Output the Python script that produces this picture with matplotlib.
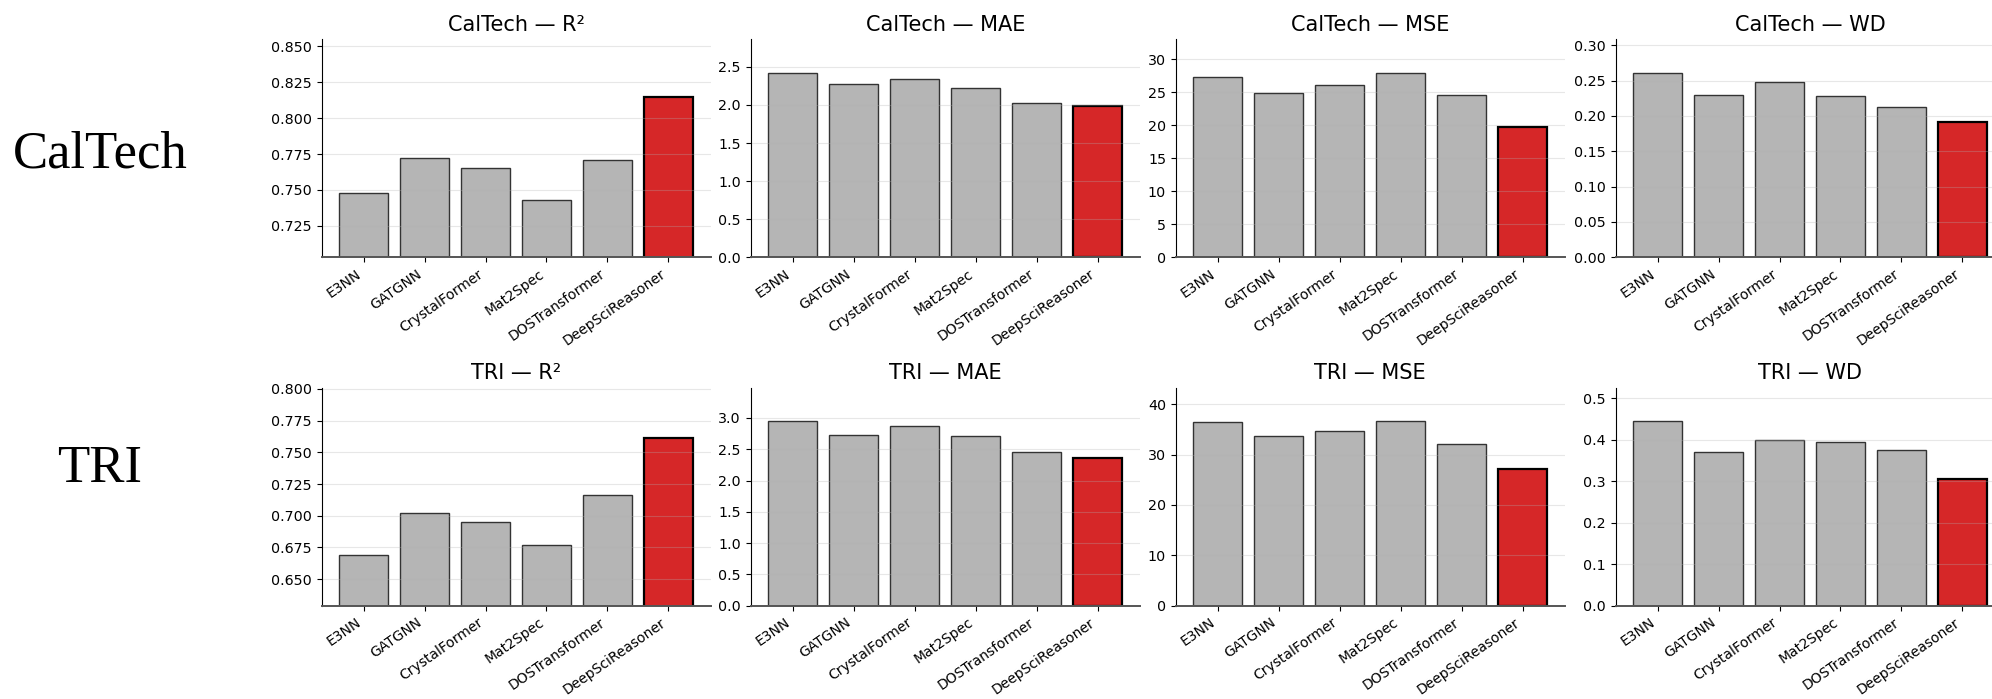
import numpy as np
import matplotlib.pyplot as plt

models = ['E3NN', 'GATGNN', 'CrystalFormer', 'Mat2Spec', 'DOSTransformer', 'DeepSciReasoner']
metrics = ['R²', 'MAE', 'MSE', 'WD']
datasets = ['CalTech', 'TRI']

# values
caltech_r2 = [0.748, 0.772, 0.765, 0.743, 0.771, 0.815]
caltech_mae = [2.426, 2.277, 2.347, 2.229, 2.028, 1.984]
caltech_mse = [27.33, 24.86, 26.15, 27.99, 24.66, 19.67]
caltech_wd = [0.2614, 0.2299, 0.2482, 0.2280, 0.2124, 0.1912]

tri_r2 = [0.669, 0.702, 0.695, 0.677, 0.716, 0.761]
tri_mae = [2.952, 2.729, 2.872, 2.718, 2.463, 2.362]
tri_mse = [36.56, 33.79, 34.64, 36.69, 32.20, 27.24]
tri_wd = [0.4454, 0.370, 0.399, 0.395, 0.3756, 0.305]

values = {
    'CalTech': [caltech_r2, caltech_mae, caltech_mse, caltech_wd],
    'TRI': [tri_r2, tri_mae, tri_mse, tri_wd],
}

W, H = 1992, 699
fig = plt.figure(figsize=(W / 100, H / 100), dpi=100)

# axes placement in pixels (left edge, top edge)
lefts = [321.5, 750.7, 1175.8, 1615.5]
tops = [39.3, 387.7]
ax_w, ax_h = 389, 218
label_y = [168, 482]  # baselines of the row labels

x = np.arange(len(models))
for r, ds in enumerate(datasets):
    fig.text(100 / W, 1 - label_y[r] / H, ds, ha='center', va='baseline',
             fontsize=38, family='Liberation Serif')
    for c, met in enumerate(metrics):
        ax = fig.add_axes([lefts[c] / W, 1 - (tops[r] + ax_h) / H, ax_w / W, ax_h / H])
        vals = values[ds][c]
        colors = ['#b5b5b5'] * (len(models) - 1) + ['#d62728']
        edges = ['#333333'] * (len(models) - 1) + ['black']
        lws = [1.0] * (len(models) - 1) + [1.6]
        ax.bar(x, vals, width=0.8, color=colors, edgecolor=edges, linewidth=lws)
        if met == 'R²':
            ax.set_ylim(min(vals) - 0.04, max(vals) + 0.04)
        else:
            ax.set_ylim(0, max(vals) * 1.18)
        ax.set_xticks(x)
        ax.set_xticklabels(models, rotation=35, ha='right', fontsize=10)
        ax.tick_params(axis='y', labelsize=10.3)
        ax.set_title(f'{ds} — {met}', fontsize=15)
        ax.grid(axis='y', alpha=0.3)
        ax.spines['top'].set_visible(False)
        ax.spines['right'].set_visible(False)
        ax.spines['bottom'].set_color('#555555')
        ax.spines['bottom'].set_linewidth(1.4)

fig.savefig('out.png', dpi=100)
